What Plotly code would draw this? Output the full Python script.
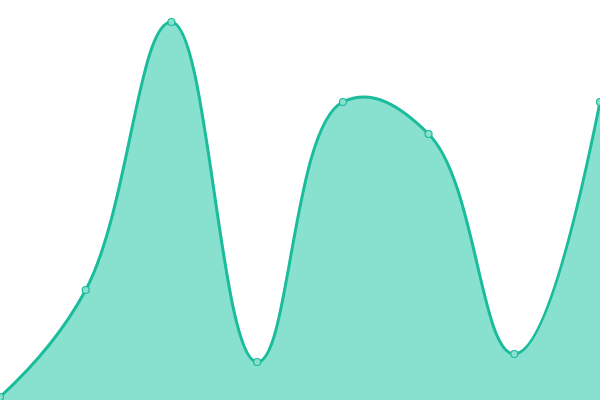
import plotly.graph_objects as go

x_vals = [0, 1, 2, 3, 4, 5, 6, 7]
y_vals = [3, 110, 378, 38, 298, 266, 46, 298]

fig = go.Figure()
fig.add_trace(go.Scatter(
    x=x_vals, y=y_vals,
    mode="lines+markers",
    line=dict(color="#1abc9c", width=3, shape="spline", smoothing=1.2),
    fill="tozeroy",
    fillcolor="#88e0cf",
    marker=dict(size=7, color="#88e0cf", line=dict(color="#1abc9c", width=1.2)),
    hoverinfo="skip",
    cliponaxis=False,
))
fig.update_layout(
    width=600, height=400,
    margin=dict(l=0, r=0, t=0, b=0),
    paper_bgcolor="white", plot_bgcolor="white",
    showlegend=False,
    xaxis=dict(range=[0, 7], visible=False, fixedrange=True),
    yaxis=dict(range=[0, 400], visible=False, fixedrange=True),
)
fig.write_html(
    "out.html",
    config={"displayModeBar": False},
    post_script="document.body.style.margin='0';document.body.style.overflow='hidden';",
)
